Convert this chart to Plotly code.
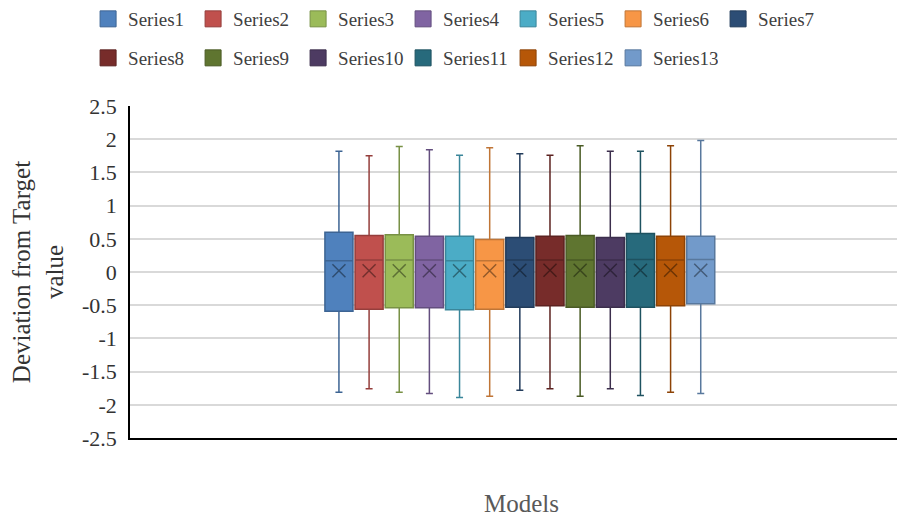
import plotly.graph_objects as go

series = [f"Series{i}" for i in range(1, 14)]
upper = [1.82, 1.75, 1.89, 1.84, 1.76, 1.87, 1.78, 1.76, 1.90, 1.82, 1.82, 1.90, 1.98]
q3 = [0.60, 0.55, 0.56, 0.54, 0.54, 0.49, 0.52, 0.54, 0.55, 0.52, 0.58, 0.54, 0.54]
median = [0.17, 0.18, 0.18, 0.18, 0.17, 0.17, 0.18, 0.18, 0.18, 0.18, 0.19, 0.18, 0.19]
mean = [0.02, 0.02, 0.02, 0.02, 0.02, 0.02, 0.025, 0.025, 0.025, 0.025, 0.025, 0.025, 0.025]
q1 = [-0.59, -0.56, -0.54, -0.54, -0.57, -0.56, -0.53, -0.51, -0.53, -0.53, -0.53, -0.51, -0.48]
lower = [-1.81, -1.76, -1.81, -1.83, -1.89, -1.87, -1.78, -1.76, -1.87, -1.76, -1.86, -1.81, -1.83]

y_tick_vals = [2.5, 2, 1.5, 1, 0.5, 0, -0.5, -1, -1.5, -2, -2.5]
y_tick_text = ["2.5", "2", "1.5", "1", "0.5", "0", "-0.5", "-1", "-1.5", "-2", "-2.5"]

fills = ["#4F81BD", "#C0504D", "#9BBB59", "#8064A2", "#4BACC6", "#F79646", "#2C4D75",
         "#772C2A", "#5F7530", "#4D3B62", "#276A7C", "#B65708", "#729ACA"]


def darker(hx, f=0.78):
    hx = hx.lstrip("#")
    r, g, b = (int(hx[i:i + 2], 16) for i in (0, 2, 4))
    return f"rgb({int(r * f)},{int(g * f)},{int(b * f)})"


FONT = "Liberation Serif, 'Times New Roman', Times, serif"
fig = go.Figure()

for i, s in enumerate(series):
    fig.add_trace(go.Box(
        x=[s], q1=[q1[i]], median=[median[i]], q3=[q3[i]],
        lowerfence=[lower[i]], upperfence=[upper[i]],
        name=s, width=0.93, whiskerwidth=0.25,
        fillcolor=fills[i], line=dict(color=darker(fills[i]), width=1.5),
        showlegend=False, hoverinfo="skip",
    ))
    fig.add_trace(go.Scatter(
        x=[s], y=[mean[i]], mode="markers",
        marker=dict(symbol="x-thin", size=13,
                    line=dict(color=darker(fills[i], 0.6), width=1.5)),
        showlegend=False, hoverinfo="skip",
    ))

for i, s in enumerate(series):
    fig.add_trace(go.Scatter(
        x=[None], y=[None], mode="markers", name=s,
        marker=dict(symbol="square", size=16, color=fills[i],
                    line=dict(color=darker(fills[i]), width=1)),
        legend="legend" if i < 7 else "legend2",
    ))

legend_common = dict(
    orientation="h", xref="container", yref="container",
    x=0.0885, xanchor="left", yanchor="middle",
    font=dict(family=FONT, size=19, color="#404040"),
    entrywidth=60, itemwidth=30, bgcolor="rgba(0,0,0,0)",
    traceorder="normal",
)

fig.update_layout(
    width=905, height=521,
    margin=dict(l=122, r=0, t=98, b=91),
    paper_bgcolor="white", plot_bgcolor="white",
    boxmode="overlay",
    showlegend=True,
    legend=dict(legend_common, y=1 - 11 / 521),
    legend2=dict(legend_common, y=1 - 50 / 521),
    font=dict(family=FONT),
    xaxis=dict(
        type="category", categoryorder="array", categoryarray=series,
        range=[-6.93, 19.04], showticklabels=False, showgrid=False,
        showline=True, linecolor="black", linewidth=2, ticks="",
        zeroline=False,
        title=dict(text="Models", font=dict(family=FONT, size=25, color="#595959"),
                   standoff=55),
    ),
    yaxis=dict(
        range=[-2.5, 2.5], tickmode="array",
        tickvals=y_tick_vals, ticktext=y_tick_text,
        showgrid=True, gridcolor="#D9D9D9", gridwidth=1.5,
        zeroline=False, showline=True, linecolor="black", linewidth=1.5,
        ticks="outside", ticklen=7, tickcolor="rgba(0,0,0,0)",
        tickfont=dict(family=FONT, size=22, color="#333333"),
        title=dict(text="Deviation from Target<br>value",
                   font=dict(family=FONT, size=25, color="#333333"), standoff=12),
    ),
)

fig.write_html("out.html")
